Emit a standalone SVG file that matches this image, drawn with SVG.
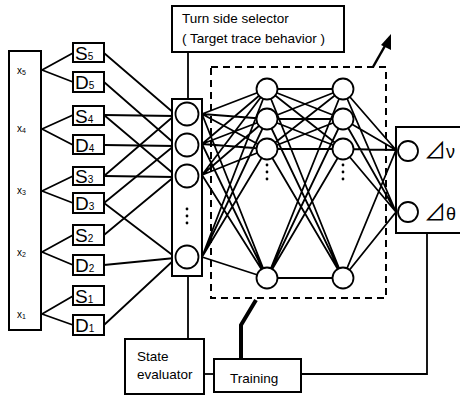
<svg xmlns="http://www.w3.org/2000/svg" width="460" height="397" viewBox="0 0 460 397">
<style>
.box{fill:#fff;stroke:#000;stroke-width:2}
.n{fill:#fff;stroke:#000;stroke-width:1.8}
.ln{stroke:#000;stroke-width:1.8;fill:none}
.t{font-family:"Liberation Sans",Arial,sans-serif;fill:#000}
.big{font-size:19px}
.sub{font-size:10px}
.lbl{font-size:13.5px}
.dot{fill:#000}
.dl{font-family:"Liberation Sans","Noto Sans CJK JP",sans-serif}
</style>
<rect width="460" height="397" fill="#fff"/>

<g id="connectors">
<!-- x to S/D -->
<path class="ln" d="M42,70 L73,53 M42,70 L73,82"/>
<path class="ln" d="M42,129 L73,115 M42,129 L73,145"/>
<path class="ln" d="M42,191 L73,176 M42,191 L73,203"/>
<path class="ln" d="M42,252 L73,235 M42,252 L73,265"/>
<path class="ln" d="M42,314 L73,296 M42,314 L73,325"/>
<!-- S/D to input neurons -->
<path class="ln" d="M104,53 L175,114 M104,115 L175,116 M104,176 L175,115"/>
<path class="ln" d="M104,82 L175,144 M104,145 L175,146 M104,203 L175,145"/>
<path class="ln" d="M104,115 L175,175 M104,176 L175,177 M104,235 L175,176"/>
<path class="ln" d="M104,203 L175,257 M104,265 L175,258 M104,325 L175,259"/>
<!-- input to hidden1 -->
<path class="ln" d="M202,114 L267,89 M202,114 L267,119 M202,114 L267,149 M202,114 L267,278
M202,144 L267,89 M202,144 L267,119 M202,144 L267,149 M202,144 L267,278
M202,175 L267,89 M202,175 L267,119 M202,175 L267,149 M202,175 L267,278
M202,257 L267,89 M202,257 L267,119 M202,257 L267,149 M202,257 L267,278"/>
<!-- hidden1 to hidden2 -->
<path class="ln" d="M267,89 L343,89 M267,89 L343,119 M267,89 L343,149 M267,89 L343,278
M267,119 L343,89 M267,119 L343,119 M267,119 L343,149 M267,119 L343,278
M267,149 L343,89 M267,149 L343,119 M267,149 L343,149 M267,149 L343,278
M267,278 L343,89 M267,278 L343,119 M267,278 L343,149 M267,278 L343,278"/>
<!-- hidden2 to output -->
<path class="ln" d="M343,89 L396,150 M343,89 L396,212 M343,119 L396,150 M343,119 L396,212
M343,149 L396,150 M343,149 L396,212 M343,278 L396,150 M343,278 L396,212"/>
<!-- selector to input column -->
<path class="ln" d="M188,52 L188,99"/>
<!-- input column to state evaluator -->
<path class="ln" d="M188,276 L188,339"/>
<!-- state evaluator to training -->
<path class="ln" d="M204,374 L214,374"/>
<!-- training to output -->
<path class="ln" d="M301,374 L427,374 L427,233"/>
<!-- training to network (thick) -->
<path d="M241,359 L241,325 L256,300" fill="none" stroke="#000" stroke-width="4"/>
<!-- dashed network box -->
<rect x="211" y="67" width="175" height="231" fill="none" stroke="#000" stroke-width="2" stroke-dasharray="7,5"/>
<!-- adjustment arrow -->
<path d="M373,67 L386,44" fill="none" stroke="#000" stroke-width="2.5"/>
<polygon points="391,34 391,50 381,45" fill="#000"/>
</g>

<g id="x-inputs">
<rect class="box" x="9" y="51" width="32" height="279"/>
<text class="t" x="17" y="74" font-size="10">x<tspan font-size="7" dy="1">5</tspan></text>
<text class="t" x="17" y="132" font-size="10">x<tspan font-size="7" dy="1">4</tspan></text>
<text class="t" x="17" y="194" font-size="10">x<tspan font-size="7" dy="1">3</tspan></text>
<text class="t" x="17" y="256" font-size="10">x<tspan font-size="7" dy="1">2</tspan></text>
<text class="t" x="17" y="318" font-size="10">x<tspan font-size="7" dy="1">1</tspan></text>
</g>

<g id="S5"><rect class="box" x="73" y="43" width="31" height="19"/><text class="t big" x="75" y="60">S<tspan class="sub">5</tspan></text></g>
<g id="D5"><rect class="box" x="73" y="72" width="31" height="20"/><text class="t big" x="75" y="89">D<tspan class="sub">5</tspan></text></g>
<g id="S4"><rect class="box" x="73" y="106" width="31" height="19"/><text class="t big" x="75" y="123">S<tspan class="sub">4</tspan></text></g>
<g id="D4"><rect class="box" x="73" y="135" width="31" height="19"/><text class="t big" x="75" y="152">D<tspan class="sub">4</tspan></text></g>
<g id="S3"><rect class="box" x="73" y="167" width="31" height="18"/><text class="t big" x="75" y="183">S<tspan class="sub">3</tspan></text></g>
<g id="D3"><rect class="box" x="73" y="193" width="31" height="20"/><text class="t big" x="75" y="210">D<tspan class="sub">3</tspan></text></g>
<g id="S2"><rect class="box" x="73" y="225" width="31" height="20"/><text class="t big" x="75" y="242">S<tspan class="sub">2</tspan></text></g>
<g id="D2"><rect class="box" x="73" y="255" width="31" height="20"/><text class="t big" x="75" y="272">D<tspan class="sub">2</tspan></text></g>
<g id="S1"><rect class="box" x="73" y="286" width="31" height="19"/><text class="t big" x="75" y="303">S<tspan class="sub">1</tspan></text></g>
<g id="D1"><rect class="box" x="73" y="315" width="31" height="20"/><text class="t big" x="75" y="332">D<tspan class="sub">1</tspan></text></g>

<g id="selector">
<rect class="box" x="172" y="6" width="172" height="46"/>
<text class="t lbl" x="182" y="23">Turn side selector</text>
<text class="t lbl" x="182" y="43">( Target trace behavior )</text>
</g>

<g id="input-layer">
<rect class="box" x="172" y="99" width="30" height="177"/>
<circle class="n" cx="187" cy="114" r="11.5"/>
<circle class="n" cx="187" cy="145" r="11.5"/>
<circle class="n" cx="187" cy="176" r="11.5"/>
<circle class="n" cx="187" cy="257" r="11.5"/>
<circle class="dot" cx="187" cy="209" r="1.4"/>
<circle class="dot" cx="187" cy="216" r="1.4"/>
<circle class="dot" cx="187" cy="223" r="1.4"/>
</g>

<g id="hidden1">
<circle class="n" cx="267" cy="89" r="10.5"/>
<circle class="n" cx="267" cy="119" r="10.5"/>
<circle class="n" cx="267" cy="149" r="10.5"/>
<circle class="n" cx="267" cy="278" r="10.5"/>
<circle class="dot" cx="267" cy="165" r="1.4"/>
<circle class="dot" cx="267" cy="172" r="1.4"/>
<circle class="dot" cx="267" cy="179" r="1.4"/>
</g>

<g id="hidden2">
<circle class="n" cx="343" cy="89" r="10.5"/>
<circle class="n" cx="343" cy="119" r="10.5"/>
<circle class="n" cx="343" cy="149" r="10.5"/>
<circle class="n" cx="343" cy="278" r="10.5"/>
<circle class="dot" cx="343" cy="165" r="1.4"/>
<circle class="dot" cx="343" cy="172" r="1.4"/>
<circle class="dot" cx="343" cy="179" r="1.4"/>
</g>

<g id="output">
<rect class="box" x="396" y="127" width="70" height="106"/>
<circle class="n" cx="408" cy="151" r="10"/>
<circle class="n" cx="408" cy="212" r="10"/>
<text class="t dl" x="424" y="158" font-size="18"><tspan font-size="22">⊿</tspan>ν</text>
<text class="t dl" x="424" y="220" font-size="18"><tspan font-size="22">⊿</tspan>θ</text>
</g>

<g id="state-evaluator">
<rect class="box" x="125" y="339" width="79" height="55"/>
<text class="t lbl" x="137" y="361">State</text>
<text class="t lbl" x="137" y="379">evaluator</text>
</g>

<g id="training">
<rect class="box" x="214" y="359" width="87" height="33"/>
<text class="t lbl" x="230" y="383">Training</text>
</g>
</svg>
